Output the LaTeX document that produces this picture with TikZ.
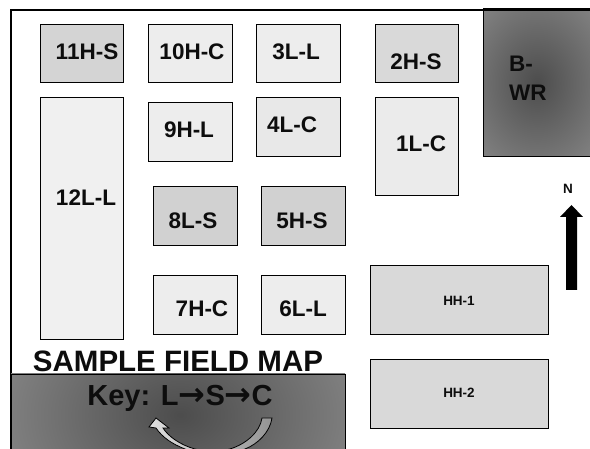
\documentclass[tikz,border=0pt]{standalone}
\usepackage{fontspec}
\setmainfont{Liberation Sans}
\newfontfamily\arrowfont{DejaVu Sans}
\begin{document}
\begin{tikzpicture}[x=1pt,y=-1pt,
  plot/.style={draw=black,line width=0.8pt},
  lab/.style={font=\bfseries\fontsize{22.5}{28.5}\selectfont,text=black!95,inner sep=0pt,anchor=center},
  small/.style={font=\bfseries\fontsize{13.5}{15}\selectfont,text=black!95,inner sep=0pt,anchor=center}]
\useasboundingbox (0,0) rectangle (590,449);
\fill[white] (0,0) rectangle (590,449);
% frame
\draw[black,line width=1.6pt] (11,449) -- (11,10) -- (483,10);
% plots
\draw[plot,fill=black!17] (40,24) rectangle (123,82);
\draw[plot,fill=black!7] (148,24) rectangle (232,82);
\draw[plot,fill=black!7] (256,24) rectangle (340,82);
\draw[plot,fill=black!15] (375,24) rectangle (458,82);
\draw[plot,fill=black!8] (375,97) rectangle (458,195);
\draw[plot,fill=black!6] (40,97) rectangle (123,339);
\draw[plot,fill=black!7] (148,102) rectangle (232,161);
\draw[plot,fill=black!9] (256,97) rectangle (340,156);
\draw[plot,fill=black!18] (153,186) rectangle (237,245);
\draw[plot,fill=black!18] (261,186) rectangle (345,245);
\draw[plot,fill=black!7] (153,275) rectangle (237,334);
\draw[plot,fill=black!7] (261,275) rectangle (345,334);
\draw[plot,fill=black!15] (370,265) rectangle (548,334);
\draw[plot,fill=black!15] (370,359) rectangle (548,428);
% shaded areas
\begin{scope}
\clip (483,10) rectangle (590,156);
\shade[inner color=black!70,outer color=black!47] (447,-27) rectangle (627,193);
\end{scope}
\draw[black,line width=0.8pt] (590,10) -- (483,10) -- (483,156) -- (590,156);
\draw[black,line width=1.6pt] (483,9) -- (590,9);
\begin{scope}
\clip (11,374) rectangle (345,449);
\shade[inner color=black!70,outer color=black!47] (-20,270) rectangle (380,560);
\end{scope}
\draw[black,line width=0.8pt] (11,449) -- (11,374) -- (345,374) -- (345,449);
% curved arrow
\begin{scope}
\clip (11,374) rectangle (345,449);
\draw[black,line width=0.8pt,left color=black!12,right color=black!42]
  (272,418) .. controls (270,432) and (258,444) .. (245,449)
  -- (215,460) -- (185,449)
  .. controls (172,444) and (162,437) .. (156,428)
  -- (149,427) -- (156,418) -- (169,428) -- (163,428)
  .. controls (168,436) and (180,445) .. (195,449)
  -- (212,453) -- (230,449)
  .. controls (246,444) and (260,432) .. (262,418) -- cycle;
\end{scope}
% north arrow
\fill[black] (566,290) -- (577,290) -- (577,217) -- (583,217) -- (571.5,205) -- (560,217) -- (566,217) -- cycle;
% labels
\node[lab] (n11) at (87,52) {11H-S};
\node[lab] (n10) at (192,52) {10H-C};
\node[lab] (n3) at (296,52) {3L-L};
\node[lab] (n2) at (416,62) {2H-S};
\node[lab,align=left,anchor=north west] (nb) at (509,56) {B-\\WR};
\node[lab] (n1) at (421,144) {1L-C};
\node[lab] (n12) at (86,198) {12L-L};
\node[lab] (n9) at (189,130) {9H-L};
\node[lab] (n4) at (292,125) {4L-C};
\node[lab] (n8) at (193,221) {8L-S};
\node[lab] (n5) at (302,221) {5H-S};
\node[lab] (n7) at (202,309) {7H-C};
\node[lab] (n6) at (303,309) {6L-L};
\node[small] (h1) at (459,301) {HH-1};
\node[small] (h2) at (459,393) {HH-2};
\node[small] (nn) at (568,189) {N};
\node[font=\bfseries\fontsize{29.5}{32}\selectfont,text=black!95,inner sep=0pt] (t) at (178,361) {SAMPLE FIELD MAP};
\node[font=\bfseries\fontsize{29}{32}\selectfont,text=black!95,inner sep=0pt] (k) at (180,398) {Key: L{\arrowfont\fontsize{32}{32}\selectfont→}S{\arrowfont\fontsize{32}{32}\selectfont→}C};
\end{tikzpicture}
\end{document}
